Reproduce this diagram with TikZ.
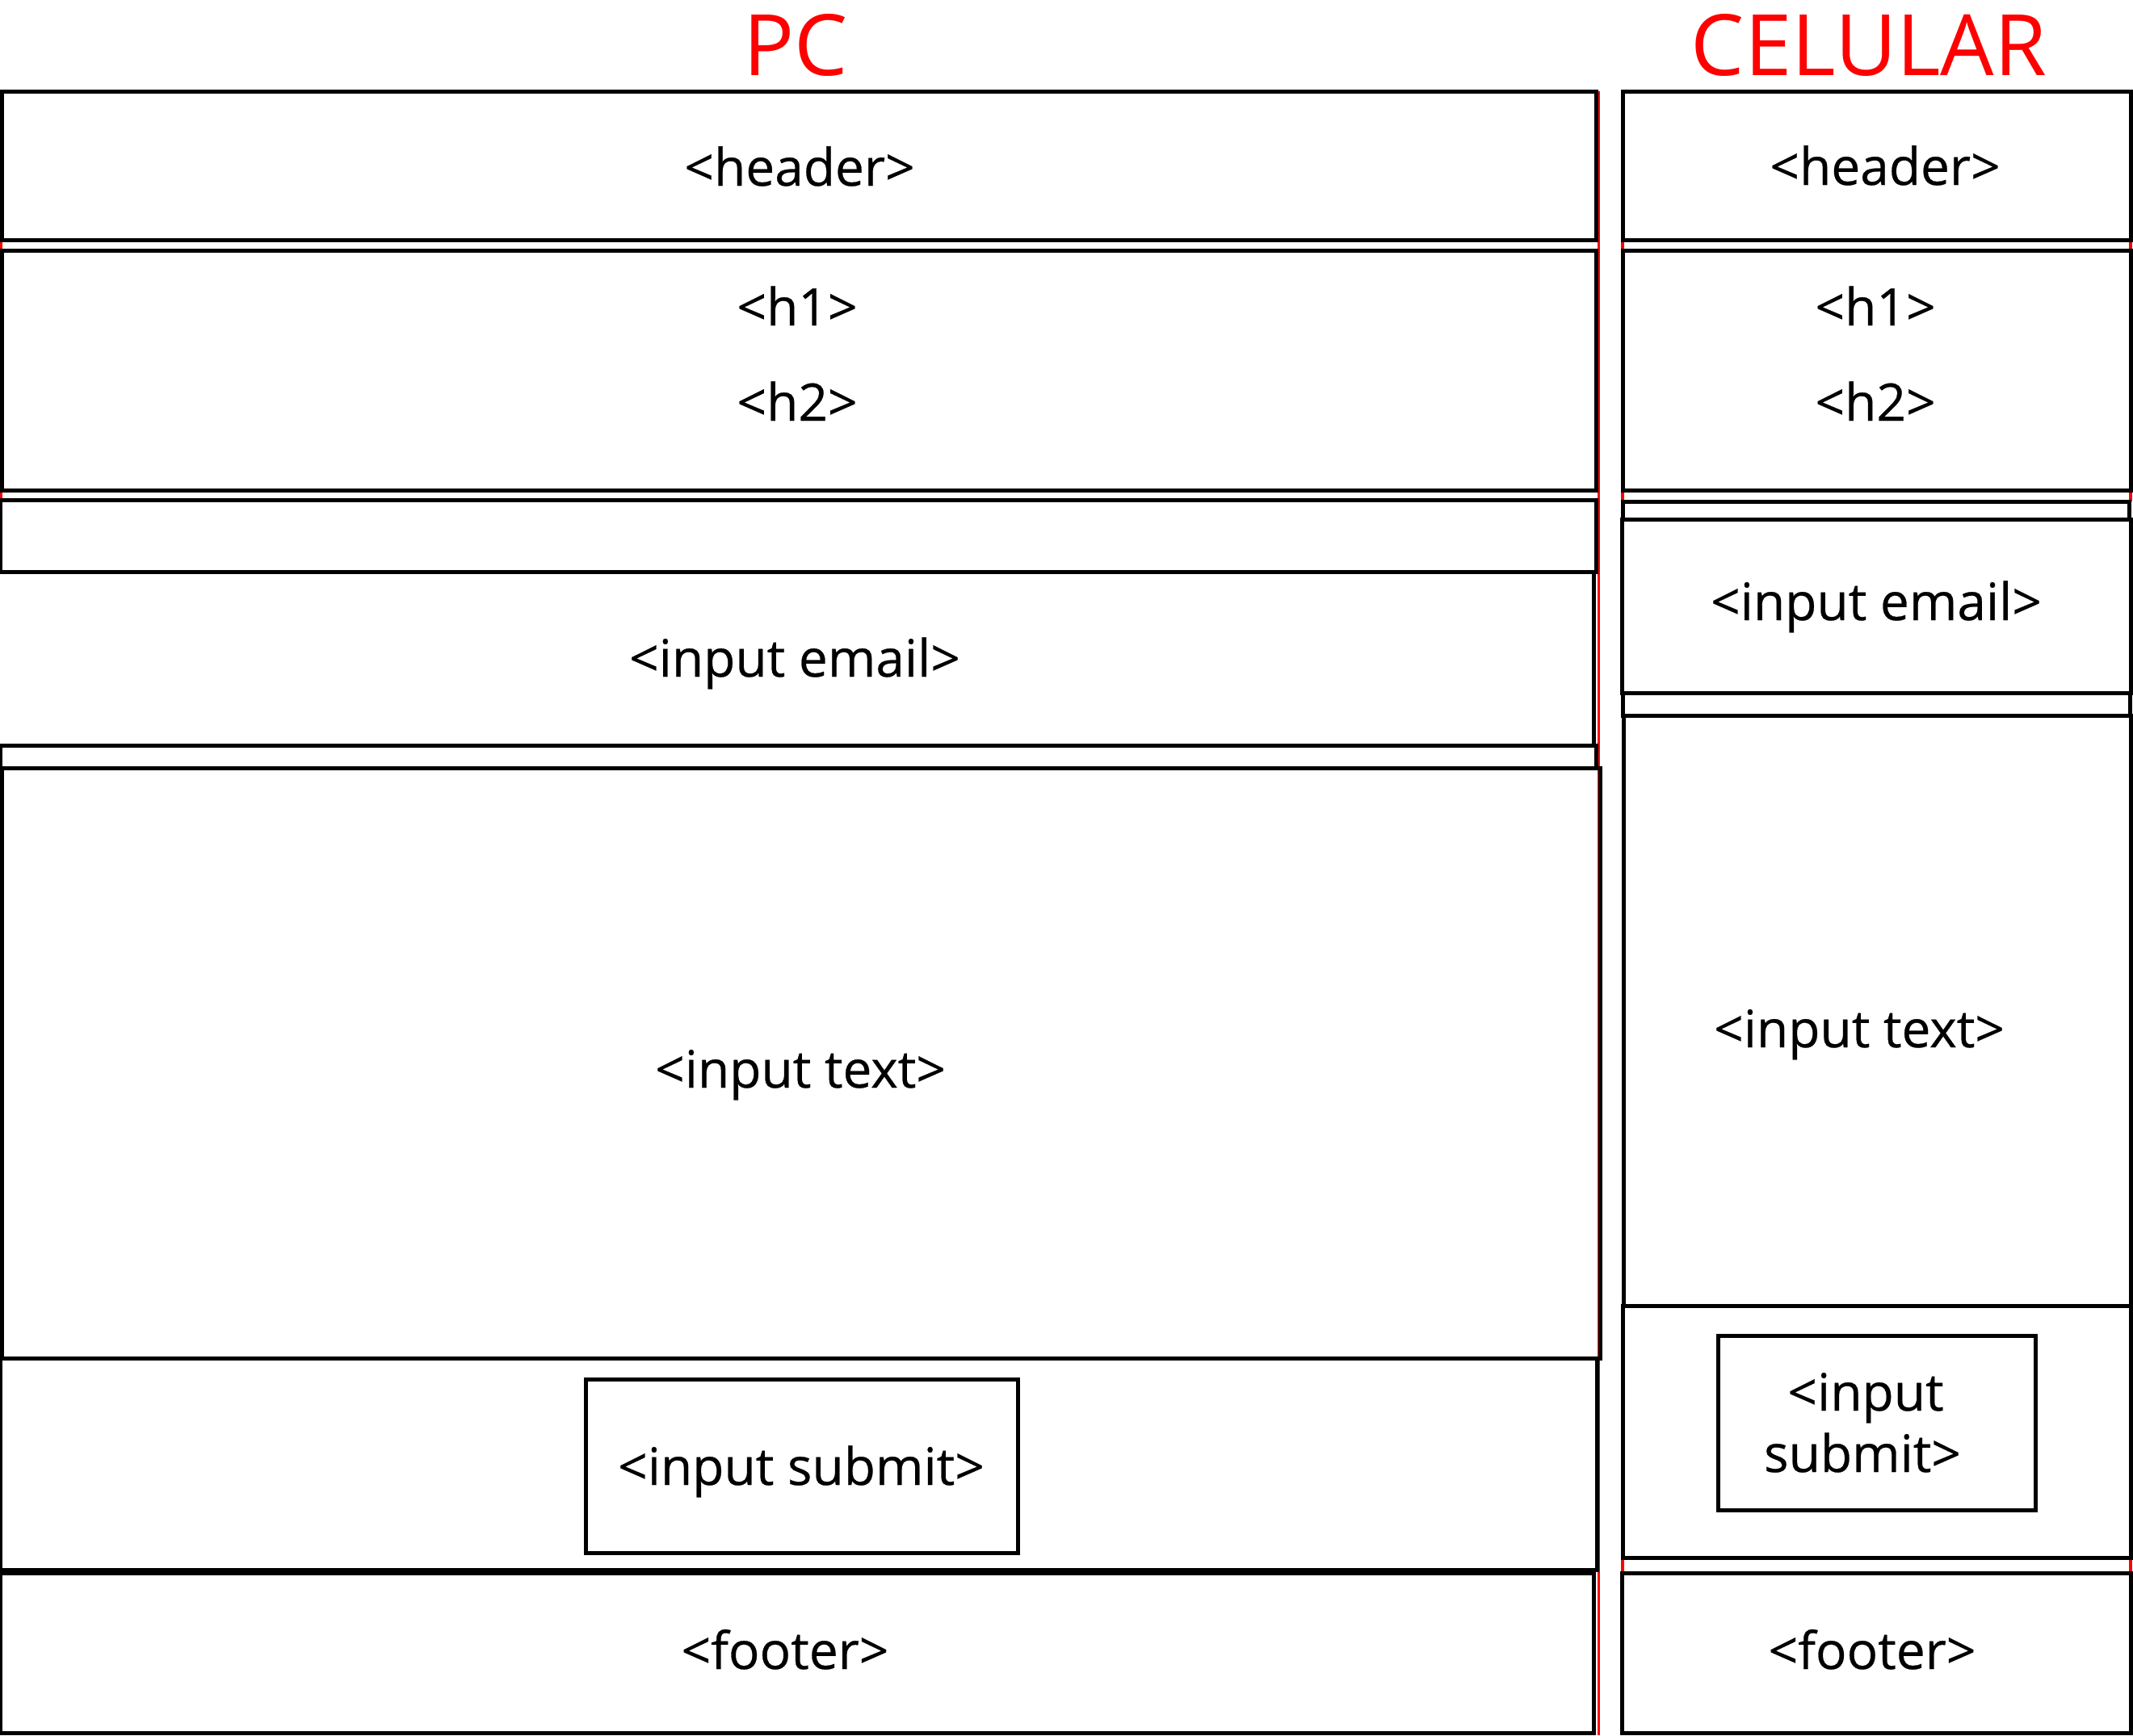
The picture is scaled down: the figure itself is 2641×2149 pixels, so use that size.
\documentclass[tikz,border=0pt]{standalone}
\usepackage{fontspec}
\setmainfont{Open Sans}[FakeBold=0.4]
\newfontfamily\titlefont{Open Sans}
\begin{document}
\begin{tikzpicture}[x=1pt,y=-1pt,
  box/.style={draw=black, line width=5pt, inner sep=0pt, outer sep=0pt, fill=none},
  lbl/.style={inner sep=0pt, anchor=base, font=\fontsize{64}{78}\selectfont},
  ttl/.style={inner sep=0pt, anchor=base, text=red, font=\titlefont\fontsize{105}{120}\selectfont},
  tick/.style={draw=red, line width=4pt}]
\useasboundingbox (0,0) rectangle (2641,2149);
\newcommand\bx[5]{\node[box, minimum width={#4-#2}, minimum height={#5-#3}] (#1) at ({(#2+#4)/2},{(#3+#5)/2}) {};}
% red guide marks
\coordinate (rt) at (1979.5,113);
\coordinate (rb) at (1979.5,2149);
\draw[draw=red, line width=2.5pt] (rt) -- (rb);
\coordinate (pl1a) at (1,297); \coordinate (pl1b) at (1,310);
\coordinate (pl2a) at (1,607); \coordinate (pl2b) at (1,619);
\draw[tick] (pl1a) -- (pl1b);
\draw[tick] (pl2a) -- (pl2b);
\foreach \xx/\nm in {2009/cl,2638/cr}{
  \coordinate (\nm1a) at (\xx,297); \coordinate (\nm1b) at (\xx,310);
  \coordinate (\nm2a) at (\xx,607); \coordinate (\nm2b) at (\xx,621);
  \coordinate (\nm3a) at (\xx,1929); \coordinate (\nm3b) at (\xx,1948);
  \draw[tick] (\nm1a) -- (\nm1b);
  \draw[tick] (\nm2a) -- (\nm2b);
  \draw[tick] (\nm3a) -- (\nm3b);
}
% titles
\node[ttl] (tpc) at (985,93) {PC};
\node[ttl] (tcel) at (2314,93) {CELULAR};
% PC column
\bx{pchead}{2}{113}{1976}{297}
\bx{pch}{2}{310}{1976}{607}
\bx{pcsmall}{0}{619}{1976}{708}
\bx{pcemail}{-5}{708}{1973}{923}
\bx{pcstrip}{0}{923}{1976}{951}
\bx{pctext}{2.5}{951}{1981}{1682}
\bx{pcsub}{0}{1682}{1977}{1944}
\bx{pcfoot}{0}{1948}{1973}{2146}
\bx{pcbtn}{725}{1708}{1260}{1923}
\node[lbl] (lpchead) at (990,230) {<header>};
\node[lbl] (lpch1) at (987,403) {<h1>};
\node[lbl] (lpch2) at (987,521) {<h2>};
\node[lbl] (lpcemail) at (984,838) {<input email>};
\node[lbl] (lpctext) at (991,1347) {<input text>};
\node[lbl] (lpcbtn) at (992,1839) {<input submit>};
\node[lbl] (lpcfoot) at (972,2067) {<footer>};
% CELULAR column
\bx{chead}{2009}{113}{2638}{297}
\bx{ch}{2009}{310}{2638}{607}
\bx{csmall}{2009}{621}{2636}{643}
\bx{cemail}{2008}{643}{2638}{858}
\bx{cstrip}{2009}{858}{2637}{886}
\bx{ctext}{2010}{886}{2638}{1617}
\bx{csub}{2009}{1617}{2638}{1929}
\bx{cfoot}{2008}{1948}{2638}{2146}
\bx{cbtn}{2127}{1654}{2520}{1870}
\node[lbl] (lchead) at (2334,229) {<header>};
\node[lbl] (lch1) at (2322,403) {<h1>};
\node[lbl] (lch2) at (2322,521) {<h2>};
\node[lbl] (lcemail) at (2323,768) {<input email>};
\node[lbl] (lctext) at (2302,1297) {<input text>};
\node[lbl] (lcbtn1) at (2310,1747) {<input};
\node[lbl] (lcbtn2) at (2306,1823) {submit>};
\node[lbl] (lcfoot) at (2318,2067) {<footer>};
\end{tikzpicture}
\end{document}
